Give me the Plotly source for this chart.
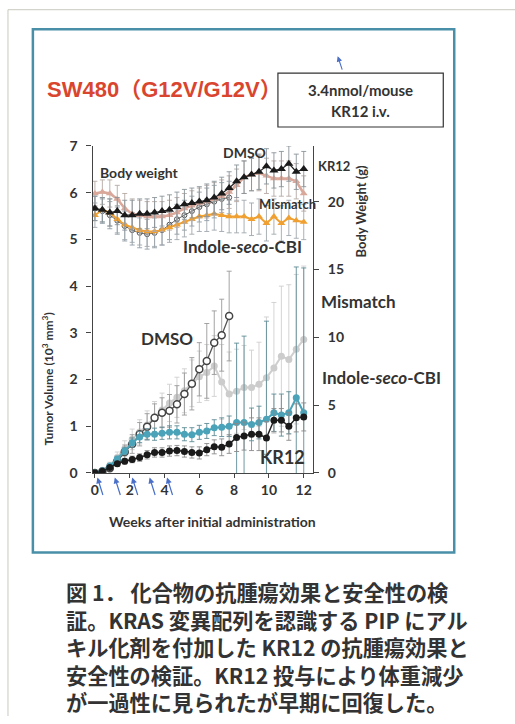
import plotly.graph_objects as go

# ---------------- data ----------------
days = [0, 3, 6, 9, 12, 15, 18, 21, 24, 27, 30, 33, 36, 39, 42, 45, 48, 51, 54,
        57, 60, 63, 66, 69, 72, 75, 78, 81, 84]
weeks = [d / 7 for d in days]
dose_days = [1, 8, 15, 22, 29]

# tumor volume (10^3 mm^3), mean and error
tv_dmso = [0.0, 0.03, 0.10, 0.25, 0.45, 0.62, 0.83, 0.99, 1.18, 1.29, 1.33, 1.47,
           1.69, 1.91, 2.22, 2.40, 2.79, 2.95, 3.36]
tv_dmso_err = [0.0, 0.02, 0.05, 0.10, 0.15, 0.20, 0.25, 0.28, 0.30, 0.32, 0.35, 0.40,
               0.45, 0.56, 0.57, 0.80, 0.68, 0.77, 0.96]
tv_mis = [0.0, 0.06, 0.16, 0.33, 0.52, 0.72, 0.88, 1.03, 1.20, 1.35, 1.50, 1.62,
          1.76, 1.92, 2.06, 2.15, 2.29, 1.95, 1.69, 1.75, 1.83, 1.83, 1.90, 2.04,
          2.25, 2.50, 2.43, 2.65, 2.86]
tv_mis_err = [0.0, 0.03, 0.07, 0.12, 0.17, 0.22, 0.26, 0.30, 0.33, 0.36, 0.40, 0.43,
              0.47, 0.50, 0.55, 0.60, 0.65, 0.80, 0.90, 0.90, 0.90, 0.80, 0.90, 1.30,
              1.40, 1.50, 1.60, 1.60, 1.57]
tv_ind = [0.0, 0.05, 0.15, 0.30, 0.47, 0.65, 0.77, 0.83, 0.83, 0.85, 0.87, 0.87,
          0.83, 0.82, 0.87, 0.90, 0.97, 0.98, 1.00, 1.08, 1.08, 1.04, 1.08, 1.15,
          1.29, 1.24, 1.29, 1.61, 1.29]
tv_ind_err = [0.0, 0.02, 0.04, 0.06, 0.08, 0.10, 0.12, 0.12, 0.13, 0.13, 0.14, 0.14,
              0.14, 0.15, 0.15, 0.16, 0.17, 0.20, 0.22, 1.70, 1.85, 0.35, 0.35, 2.10,
              0.40, 0.45, 0.45, 2.80, 3.10]
tv_kr12 = [0.0, 0.04, 0.12, 0.20, 0.25, 0.29, 0.33, 0.39, 0.44, 0.44, 0.47, 0.48,
           0.46, 0.44, 0.43, 0.50, 0.56, 0.55, 0.62, 0.76, 0.79, 0.83, 0.83, 0.75,
           1.13, 1.13, 1.00, 1.18, 1.20]
tv_kr12_err = [0.0, 0.02, 0.04, 0.05, 0.06, 0.07, 0.08, 0.09, 0.10, 0.10, 0.11, 0.11,
               0.12, 0.12, 0.13, 0.13, 0.15, 0.18, 0.20, 0.30, 0.30, 0.35, 0.35, 0.35,
               0.25, 0.25, 0.30, 0.30, 0.30]

# body weight (g), mean and error
bw_dmso = [19.5, 19.3, 19.0, 18.6, 18.2, 17.9, 17.7, 17.6, 17.7, 17.9, 18.3, 18.7,
           19.0, 19.3, 19.6, 19.8, 20.0, 20.2, 20.3]
bw_mis = [20.6, 20.7, 20.6, 20.2, 19.5, 19.1, 19.0, 18.9, 18.9, 18.9, 19.0, 19.2,
          19.5, 19.7, 19.9, 20.0, 20.2, 20.4, 20.7, 21.2, 21.8, 22.0, 22.1, 21.9,
          21.7, 21.7, 21.7, 21.5, 20.6]
bw_ind = [19.0, 19.4, 19.2, 18.7, 18.3, 18.1, 17.9, 17.8, 17.8, 17.9, 18.1, 18.3,
          18.5, 18.7, 18.9, 19.0, 19.1, 19.0, 18.9, 18.9, 18.9, 18.7, 18.9, 18.4,
          18.9, 18.4, 18.8, 18.6, 18.5]
bw_kr12 = [19.5, 19.4, 19.2, 19.3, 19.0, 19.0, 19.1, 19.1, 19.2, 19.3, 19.4, 19.6,
           19.8, 19.9, 20.0, 20.1, 20.3, 20.6, 21.0, 21.5, 21.8, 22.0, 22.2, 22.6,
           22.3, 22.4, 22.8, 22.2, 22.4]
bw_err = [0.9, 0.9, 1.0, 1.0, 1.1, 1.1, 1.1, 1.1, 1.1, 1.1, 1.1, 1.1, 1.1, 1.1,
          1.1, 1.2, 1.2, 1.2, 1.2, 1.2, 1.2, 1.2, 1.3, 1.3, 1.3, 1.3, 1.3, 1.3, 1.3]

caption_lines = [
    "図 1． 化合物の抗腫瘍効果と安全性の検",
    "証。KRAS 変異配列を認識する PIP にアル",
    "キル化剤を付加した KR12 の抗腫瘍効果と",
    "安全性の検証。KR12 投与により体重減少",
    "が一過性に見られたが早期に回復した。",
]

# ---------------- layout helpers ----------------
W, H = 515, 724
# the page adds a little vertical padding around the figure; positions are
# given in page pixels and converted to figure paper coordinates here
V_SCALE, V_OFF = 0.978, 7.8


def fx(px):
    return px / W


def fy(py):
    return 1 - ((py - V_OFF) / V_SCALE) / H


LATIN = "Lato, 'Open Sans', sans-serif"
INK = "#333333"
AX = "#444444"

fig = go.Figure()


def err(arr, color):
    return dict(type="data", array=arr, visible=True, color=color, thickness=0.9, width=2.5)


# body weight traces (right axis)
n_d = len(bw_dmso)
fig.add_trace(go.Scatter(x=weeks[:n_d], y=bw_dmso, yaxis="y2", mode="lines+markers",
                         line=dict(color="#666666", width=1),
                         marker=dict(symbol="circle-open", size=5, color="#555555", line=dict(width=1)),
                         error_y=err(bw_err[:n_d], "#8f9ca5")))
fig.add_trace(go.Scatter(x=weeks, y=bw_ind, yaxis="y2", mode="lines+markers",
                         line=dict(color="#f0a030", width=2),
                         marker=dict(symbol="triangle-up", size=7, color="#f0a030"),
                         error_y=err(bw_err, "#a0a8ae")))
fig.add_trace(go.Scatter(x=weeks, y=bw_mis, yaxis="y2", mode="lines+markers",
                         line=dict(color="#d9a89a", width=2.5),
                         marker=dict(symbol="triangle-up", size=7, color="#d9a89a"),
                         error_y=err(bw_err, "#b5a9a5")))
fig.add_trace(go.Scatter(x=weeks, y=bw_kr12, yaxis="y2", mode="lines+markers",
                         line=dict(color="#222222", width=1.2),
                         marker=dict(symbol="triangle-up", size=8, color="#1a1a1a"),
                         error_y=err(bw_err, "#8a949a")))

# tumor volume traces (left axis)
fig.add_trace(go.Scatter(x=weeks, y=tv_mis, mode="lines+markers",
                         line=dict(color="#cfcfcf", width=2),
                         marker=dict(symbol="circle", size=7, color="#cccccc"),
                         error_y=err(tv_mis_err, "#cfcfcf")))
fig.add_trace(go.Scatter(x=weeks[:len(tv_dmso)], y=tv_dmso, mode="lines+markers",
                         line=dict(color="#555555", width=1.3),
                         marker=dict(symbol="circle", size=7, color="white",
                                     line=dict(color="#444444", width=1.5)),
                         error_y=err(tv_dmso_err, "#9a9a9a")))
fig.add_trace(go.Scatter(x=weeks, y=tv_ind, mode="lines+markers",
                         line=dict(color="#4aa3b8", width=2),
                         marker=dict(symbol="circle", size=7, color="#4aa3b8"),
                         error_y=err(tv_ind_err, "#5f8c96")))
fig.add_trace(go.Scatter(x=weeks, y=tv_kr12, mode="lines+markers",
                         line=dict(color="#222222", width=1.5),
                         marker=dict(symbol="circle", size=7, color="#1a1a1a"),
                         error_y=err(tv_kr12_err, "#8a8a8a")))

tickfont = dict(family=LATIN, size=14, color=INK, weight="bold")
fig.update_layout(
    width=W, height=H, margin=dict(l=0, r=0, t=0, b=0),
    paper_bgcolor="white", plot_bgcolor="white", showlegend=False,
    xaxis=dict(domain=[fx(91), fx(312)], range=[-0.13, 12.52],
               tickvals=[0, 2, 4, 6, 8, 10, 12], ticks="outside", ticklen=4,
               tickcolor=AX, showline=True, linecolor=AX, linewidth=1.4,
               showgrid=False, zeroline=False, tickfont=tickfont),
    yaxis=dict(domain=[fy(472.5), fy(145)], range=[0, 7], dtick=1,
               ticks="outside", ticklen=5, tickcolor=AX, showline=True,
               linecolor=AX, linewidth=1.4, showgrid=False, zeroline=False,
               tickfont=tickfont, ticklabelstandoff=6),
    yaxis2=dict(overlaying="y", side="right", anchor="x", range=[0, 24.1],
                tickvals=[0, 5, 10, 15, 20], ticks="outside", ticklen=5,
                tickcolor=AX, showline=True, linecolor=AX, linewidth=1.4,
                showgrid=False, zeroline=False, tickfont=tickfont,
                ticklabelstandoff=6),
)

top_edge = 0.999
shapes = [
    # outer page guides
    dict(type="line", xref="paper", yref="paper", x0=fx(6), x1=fx(515), y0=top_edge, y1=top_edge,
         line=dict(color="#c9c9c0", width=1)),
    dict(type="line", xref="paper", yref="paper", x0=fx(6), x1=fx(6), y0=top_edge, y1=0,
         line=dict(color="#c9c9c0", width=1)),
    # figure frame
    dict(type="rect", xref="paper", yref="paper", x0=fx(31), x1=fx(454), y0=fy(28), y1=fy(552),
         line=dict(color="#4a8fa8", width=2.5)),
    # dose box
    dict(type="rect", xref="paper", yref="paper", x0=fx(277), x1=fx(443), y0=fy(72), y1=fy(126),
         line=dict(color="#333333", width=1.2)),
]
fig.update_layout(shapes=shapes)

ann = []


def label(text, x, y, size, color=INK, family=LATIN, anchor="center", angle=0):
    ann.append(dict(text=text, x=fx(x), y=fy(y), xref="paper", yref="paper",
                    showarrow=False, xanchor=anchor, yanchor="middle", textangle=angle,
                    align="left", font=dict(family=family, size=size, color=color, weight="bold")))


label("SW480（G12V/G12V）", 43, 88, 22, color="#d9452e",
      family="'Liberation Sans', 'Noto Sans CJK JP', sans-serif", anchor="left")
label("3.4nmol/mouse", 360, 89, 15)
label("KR12 i.v.", 360, 110, 15)

label("Body weight", 138, 172, 14)
label("DMSO", 243, 152, 14)
label("KR12", 333, 165, 13)
label("Mismatch", 287, 203, 13)
label("Indole-<i>seco</i>-CBI", 241, 246, 17)

label("DMSO", 166, 338, 17)
label("Mismatch", 358, 301, 17)
label("Indole-<i>seco</i>-CBI", 381, 377, 17)
label("KR12", 282, 456, 18)

label("Tumor Volume (10<sup>3</sup> mm<sup>3</sup>)", 46, 378, 12, angle=-90)
label("Body Weight (g)", 360, 210, 13, angle=-90)
label("Weeks after initial administration", 211, 521, 14)

# caption block, five lines
label("<br>".join(caption_lines), 62, 646.5, 21.2,
      family="'Noto Sans CJK JP', sans-serif", anchor="left")

# dosing arrows below the time axis
for d in dose_days:
    ann.append(dict(x=d / 7, y=fy(477), xref="x", yref="paper", text="",
                    showarrow=True, arrowhead=2, arrowsize=1, arrowwidth=1.2,
                    arrowcolor="#4a6fc8", ax=6, ay=19))

# arrow above the dose box
ann.append(dict(x=fx(337), y=fy(55), xref="paper", yref="paper", text="",
                showarrow=True, arrowhead=2, arrowsize=1, arrowwidth=1.1,
                arrowcolor="#4a6fc8", ax=5, ay=15))

fig.update_layout(annotations=ann)
fig.write_html("out.html")
